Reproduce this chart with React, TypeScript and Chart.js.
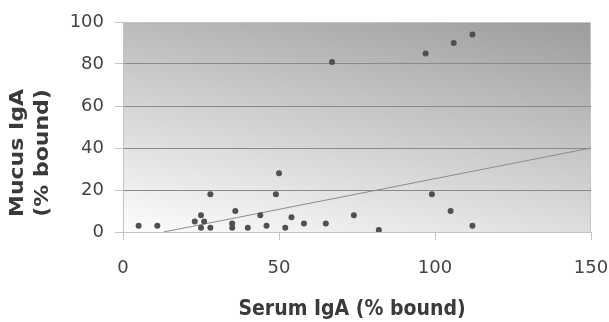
import React, { useEffect, useRef } from "react";
import { Chart, registerables } from "chart.js";
Chart.register(...registerables);

const serumIgA = [5, 11, 23, 25, 26, 25, 28, 28, 35, 35, 36, 40, 44, 46, 49, 50, 52, 54, 58, 65, 67, 74, 82, 97, 99, 105, 106, 112, 112];
const mucusIgA = [3, 3, 5, 8, 5, 2, 18, 2, 4, 2, 10, 2, 8, 3, 18, 28, 2, 7, 4, 4, 81, 8, 1, 85, 18, 10, 90, 94, 3];
const trendX = [13, 150];
const trendY = [0, 40];
const xTitle = "Serum IgA (% bound)";
const yTitle = ["Mucus IgA", "(% bound)"];

const bgPlugin = {
  id: "bgGrad",
  beforeDraw(chart: any) {
    const { ctx, chartArea: a } = chart;
    if (!a) return;
    const w = a.right - a.left;
    const h = a.bottom - a.top;
    const ux = 0.205, uy = -0.979;
    const len = w * ux - h * uy;
    const g = ctx.createLinearGradient(a.left, a.bottom, a.left + ux * len, a.bottom + uy * len);
    g.addColorStop(0, "#fdfdfd");
    g.addColorStop(1, "#9c9c9c");
    ctx.save();
    ctx.fillStyle = g;
    ctx.fillRect(a.left, a.top, w, h);
    ctx.strokeStyle = "#c4c4c4";
    ctx.lineWidth = 1;
    ctx.strokeRect(a.left + 0.5, a.top + 0.5, w - 1, h);
    ctx.restore();
  },
};

const titlePlugin = {
  id: "axisTitles",
  afterDraw(chart: any) {
    const { ctx } = chart;
    ctx.save();
    ctx.fillStyle = "#3a3a3a";
    ctx.textAlign = "center";
    ctx.textBaseline = "middle";
    ctx.save();
    ctx.translate(352, 309);
    ctx.scale(0.86, 1);
    ctx.font = 'bold 22px "DejaVu Sans"';
    ctx.fillText(xTitle, 0, 0);
    ctx.restore();
    ctx.translate(0, 153);
    ctx.rotate(-Math.PI / 2);
    ctx.scale(1, 0.9);
    ctx.font = 'bold 22px "DejaVu Sans"';
    ctx.fillText(yTitle[0], 0, 18 / 0.9);
    ctx.fillText(yTitle[1], 0, 43 / 0.9);
    ctx.restore();
  },
};

export default function App() {
  const ref = useRef<HTMLCanvasElement>(null);
  useEffect(() => {
    document.body.style.margin = "0";
    const chart = new Chart(ref.current!, {
      type: "scatter",
      data: {
        datasets: [
          {
            data: serumIgA.map((x, i) => ({ x, y: mucusIgA[i] })),
            backgroundColor: "#505050",
            borderColor: "#505050",
            pointRadius: 3,
            pointBorderWidth: 0,
          },
          {
            type: "line",
            data: trendX.map((x, i) => ({ x, y: trendY[i] })),
            borderColor: "#8c8c8c",
            borderWidth: 1,
            pointRadius: 0,
            fill: false,
          } as any,
        ],
      },
      options: {
        responsive: false,
        animation: false,
        layout: { padding: { top: 22, right: 0, left: 0, bottom: 0 } },
        plugins: { legend: { display: false }, tooltip: { enabled: false } },
        scales: {
          x: {
            type: "linear",
            min: 0,
            max: 150,
            ticks: { stepSize: 50, color: "#444", font: { family: "DejaVu Sans", size: 18 }, padding: 18 },
            grid: { drawOnChartArea: false, tickLength: 8, color: "#c4c4c4", tickColor: "#c4c4c4" },
            border: { color: "#c4c4c4" },
            afterFit: (s: any) => { s.height = 90; s.paddingRight = 18; },
          },
          y: {
            min: 0,
            max: 100,
            ticks: { stepSize: 20, color: "#444", font: { family: "DejaVu Sans", size: 18 }, padding: 11 },
            grid: {
              tickLength: 8,
              color: (c: any) => (c.tick && (c.tick.value === 0 || c.tick.value === 100) ? "rgba(0,0,0,0)" : "#8a8a8a"),
              tickColor: "#c4c4c4",
            },
            border: { color: "#c4c4c4" },
            afterFit: (s: any) => { s.width = 123; },
          },
        },
      },
      plugins: [bgPlugin, titlePlugin],
    });
    return () => chart.destroy();
  }, []);
  return <canvas ref={ref} width={609} height={322} style={{ display: "block" }} />;
}
